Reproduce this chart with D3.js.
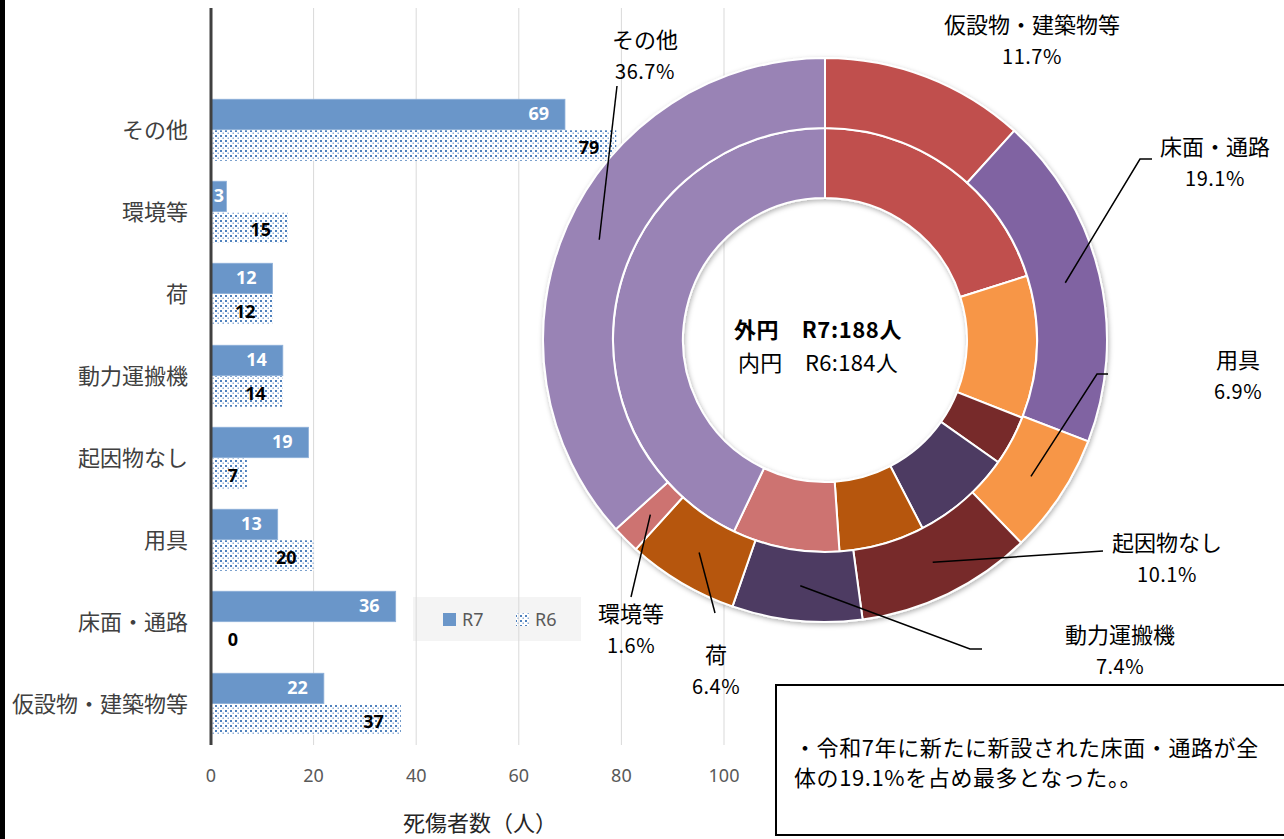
<!DOCTYPE html>
<html>
<head>
<meta charset="utf-8">
<title>起因物別 死傷者数</title>
<script src="https://cdn.jsdelivr.net/npm/d3@7"></script>
<style>
    body { margin: 0; background: #fff; }
    svg { display: block; }
</style>
</head>
<body>
<script>

    // data: bar chart, top to bottom
    var categories = ["その他", "環境等", "荷", "動力運搬機", "起因物なし", "用具", "床面・通路", "仮設物・建築物等"];
    var r7Values = [69, 3, 12, 14, 19, 13, 36, 22];
    var r6Values = [79, 15, 12, 14, 7, 20, 0, 37];
    var seriesNames = ["R7", "R6"];
    var xTicks = [0, 20, 40, 60, 80, 100];

    // data: donut, clockwise from 12 o'clock
    var pieOrder = ["仮設物・建築物等", "床面・通路", "用具", "起因物なし", "動力運搬機", "荷", "環境等", "その他"];
    var pieColors = ["#c0504d", "#8064a2", "#f79646", "#772c2a", "#4d3b62", "#b65708", "#cd7371", "#9983b5"];

    var noteLines = ["・令和7年に新たに新設された床面・通路が全", "体の19.1%を占め最多となった。。"];

    var width = 1284,
        height = 839;
    var jp = "'Noto Sans CJK JP', 'Noto Sans', sans-serif";

    var svg = d3.select("body")
        .append("svg")
        .attr("width", width)
        .attr("height", height);

    var defs = svg.append("defs");
    var pat = defs.append("pattern")
        .attr("id", "dots")
        .attr("patternUnits", "userSpaceOnUse")
        .attr("width", 5).attr("height", 5);
    pat.append("rect").attr("width", 5).attr("height", 5).attr("fill", "#fff");
    pat.append("rect").attr("x", 0).attr("y", 0).attr("width", 2).attr("height", 2).attr("fill", "#4f81bd");
    pat.append("rect").attr("x", 2.5).attr("y", 2.5).attr("width", 1.5).attr("height", 1.5).attr("fill", "#8fb0d8");

    var shadow = defs.append("filter").attr("id", "shadow")
        .attr("x", "-10%").attr("y", "-10%").attr("width", "120%").attr("height", "120%");
    shadow.append("feDropShadow")
        .attr("dx", 1).attr("dy", 2).attr("stdDeviation", 2.5)
        .attr("flood-color", "#000").attr("flood-opacity", 0.3);

    // left black edge
    svg.append("rect").attr("x", 0).attr("y", 0).attr("width", 5).attr("height", height).attr("fill", "#000");

    //---------------- bar chart
    var x = d3.scaleLinear().domain([0, 100]).range([211, 724]);
    var y = d3.scaleBand().domain(categories).range([89, 745]).paddingInner(0.25).paddingOuter(0.125);
    var ySub = d3.scaleBand().domain(seriesNames).range([0, y.bandwidth()]).paddingInner(0.02);
    var plotTop = 8, plotBottom = 745;

    // legend background (under grid)
    var legend = svg.append("g");
    legend.append("rect")
        .attr("x", 413).attr("y", 597).attr("width", 168).attr("height", 44)
        .attr("fill", "#f4f4f4");

    svg.append("g").selectAll("line")
        .data(xTicks.slice(1))
        .enter()
        .append("line")
        .attr("x1", function (d) { return x(d); })
        .attr("x2", function (d) { return x(d); })
        .attr("y1", plotTop).attr("y2", plotBottom)
        .attr("stroke", "#d9d9d9").attr("stroke-width", 1);

    var rows = categories.map(function (c, i) {
        return { cat: c, R7: r7Values[i], R6: r6Values[i] };
    });

    var bars = svg.append("g");
    bars.selectAll("rect.r7")
        .data(rows)
        .enter()
        .append("rect")
        .attr("x", x(0))
        .attr("y", function (d) { return y(d.cat) + ySub("R7"); })
        .attr("width", function (d) { return x(d.R7) - x(0); })
        .attr("height", ySub.bandwidth())
        .attr("fill", "#6a96c9")
        .attr("stroke", "#8eb0d9").attr("stroke-width", 0.8);

    bars.selectAll("rect.r6")
        .data(rows)
        .enter()
        .append("rect")
        .attr("x", x(0))
        .attr("y", function (d) { return y(d.cat) + ySub("R6"); })
        .attr("width", function (d) { return x(d.R6) - x(0); })
        .attr("height", ySub.bandwidth())
        .attr("fill", "url(#dots)");

    // value labels
    var barLabels = svg.append("g")
        .attr("font-family", "'Noto Sans', sans-serif")
        .attr("font-weight", "bold")
        .attr("font-size", 18)
        .attr("text-anchor", "end");

    barLabels.selectAll("text.r7")
        .data(rows)
        .enter()
        .append("text")
        .attr("x", function (d) { return Math.max(x(d.R7) - 16, x(0) + 13); })
        .attr("y", function (d) { return y(d.cat) + ySub("R7") + ySub.bandwidth() / 2 + 6; })
        .attr("fill", "#fff")
        .text(function (d) { return d.R7; });

    barLabels.selectAll("text.r6")
        .data(rows)
        .enter()
        .append("text")
        .attr("x", function (d) { return Math.max(x(d.R6) - 17, x(0) + 27); })
        .attr("y", function (d) { return y(d.cat) + ySub("R6") + ySub.bandwidth() / 2 + 8; })
        .attr("fill", "#000")
        .text(function (d) { return d.R6; });

    // axis line
    svg.append("line")
        .attr("x1", x(0)).attr("x2", x(0))
        .attr("y1", plotTop).attr("y2", plotBottom)
        .attr("stroke", "#404040").attr("stroke-width", 3);

    // category labels
    svg.append("g").selectAll("text")
        .data(categories)
        .enter()
        .append("text")
        .attr("x", 188)
        .attr("y", function (d) { return y(d) + y.bandwidth() / 2 + 8; })
        .attr("text-anchor", "end")
        .attr("font-family", jp).attr("font-size", 22)
        .attr("fill", "#404040")
        .text(function (d) { return d; });

    // tick labels
    svg.append("g").selectAll("text")
        .data(xTicks)
        .enter()
        .append("text")
        .attr("x", function (d) { return x(d); })
        .attr("y", 782)
        .attr("text-anchor", "middle")
        .attr("font-family", "'Noto Sans', sans-serif").attr("font-size", 18)
        .attr("fill", "#595959")
        .text(function (d) { return d; });

    svg.append("text")
        .attr("x", 480).attr("y", 831)
        .attr("text-anchor", "middle")
        .attr("font-family", jp).attr("font-size", 22)
        .attr("fill", "#262626")
        .text("死傷者数（人）");

    // legend items
    legend.append("rect").attr("x", 443).attr("y", 613).attr("width", 13).attr("height", 13).attr("fill", "#6a96c9");
    legend.append("rect").attr("x", 516).attr("y", 613).attr("width", 13).attr("height", 13).attr("fill", "url(#dots)");
    legend.selectAll("text")
        .data(seriesNames)
        .enter()
        .append("text")
        .attr("x", function (d, i) { return i === 0 ? 462 : 535; })
        .attr("y", 626)
        .attr("font-family", "'Noto Sans', sans-serif").attr("font-size", 18)
        .attr("fill", "#595959")
        .text(function (d) { return d; });

    //---------------- donut
    var cx = 825, cy = 340;
    var donut = svg.append("g").attr("transform", "translate(" + cx + "," + cy + ")");

    var outerData = pieOrder.map(function (c) { return { cat: c, value: r7Values[categories.indexOf(c)] }; });
    var innerData = pieOrder.map(function (c) { return { cat: c, value: r6Values[categories.indexOf(c)] }; });
    var color = d3.scaleOrdinal().domain(pieOrder).range(pieColors);

    var pie = d3.pie().sort(null).value(function (d) { return d.value; });
    var outerArc = d3.arc().innerRadius(212).outerRadius(282);
    var innerArc = d3.arc().innerRadius(142).outerRadius(212);

    var rings = donut.append("g").attr("filter", "url(#shadow)");
    rings.selectAll("path.inner")
        .data(pie(innerData))
        .enter()
        .append("path")
        .attr("d", innerArc)
        .attr("fill", function (d) { return color(d.data.cat); })
        .attr("stroke", "#fff").attr("stroke-width", 2);

    var outerArcs = pie(outerData);
    rings.selectAll("path.outer")
        .data(outerArcs)
        .enter()
        .append("path")
        .attr("d", outerArc)
        .attr("fill", function (d) { return color(d.data.cat); })
        .attr("stroke", "#fff").attr("stroke-width", 2);

    // label placement for outer ring (page coordinates)
    var labelPos = {
        "仮設物・建築物等": { x: 1032, y: 33, line: null },
        "床面・通路": { x: 1215, y: 155, line: [[1140, 159], [1152, 159]] },
        "用具": { x: 1238, y: 368, line: [[1097, 374], [1108, 374]] },
        "起因物なし": { x: 1167, y: 551, line: [[1103, 551]] },
        "動力運搬機": { x: 1120, y: 643, line: [[970, 649], [982, 649]] },
        "荷": { x: 716, y: 663, line: [[715, 613]] },
        "環境等": { x: 631, y: 622, line: [[631, 597]] },
        "その他": { x: 645, y: 48, line: [[617, 86]] }
    };
    var total = d3.sum(r7Values);

    var lineGen = d3.line();
    svg.append("g").selectAll("path")
        .data(outerArcs.filter(function (d) { return labelPos[d.data.cat].line; }))
        .enter()
        .append("path")
        .attr("d", function (d) {
            var c = outerArc.centroid(d);
            var pts = [[c[0] + cx, c[1] + cy]].concat(labelPos[d.data.cat].line);
            return lineGen(pts);
        })
        .attr("fill", "none")
        .attr("stroke", "#000").attr("stroke-width", 1.5);

    var pl = svg.append("g").selectAll("g")
        .data(outerArcs)
        .enter()
        .append("g")
        .attr("font-family", jp)
        .attr("text-anchor", "middle")
        .attr("fill", "#000");
    pl.append("text")
        .attr("x", function (d) { return labelPos[d.data.cat].x; })
        .attr("y", function (d) { return labelPos[d.data.cat].y; })
        .attr("font-size", 22)
        .text(function (d) { return d.data.cat; });
    pl.append("text")
        .attr("x", function (d) { return labelPos[d.data.cat].x; })
        .attr("y", function (d) { return labelPos[d.data.cat].y + 31; })
        .attr("font-size", 20)
        .attr("letter-spacing", 0.5)
        .text(function (d) { return (d.data.value / total * 100).toFixed(1) + "%"; });

    // centre text
    var centre = svg.append("g").attr("font-family", jp).attr("font-size", 22).attr("fill", "#000");
    centre.append("text").attr("x", 818).attr("y", 338).attr("text-anchor", "middle")
        .attr("font-weight", "bold").attr("letter-spacing", 0.6)
        .text("外円　R7:" + d3.sum(r7Values) + "人");
    centre.append("text").attr("x", 818).attr("y", 371).attr("text-anchor", "middle")
        .attr("letter-spacing", 0.3)
        .text("内円　R6:" + d3.sum(r6Values) + "人");

    //---------------- note box
    svg.append("rect")
        .attr("x", 776).attr("y", 685).attr("width", 530).attr("height", 150)
        .attr("fill", "#fff").attr("stroke", "#000").attr("stroke-width", 2);
    svg.append("g").selectAll("text")
        .data(noteLines)
        .enter()
        .append("text")
        .attr("x", 794)
        .attr("y", function (d, i) { return 756 + i * 30; })
        .attr("font-family", jp).attr("font-size", 22)
        .attr("letter-spacing", 0.6)
        .attr("fill", "#000")
        .text(function (d) { return d; });

</script>
</body>
</html>
